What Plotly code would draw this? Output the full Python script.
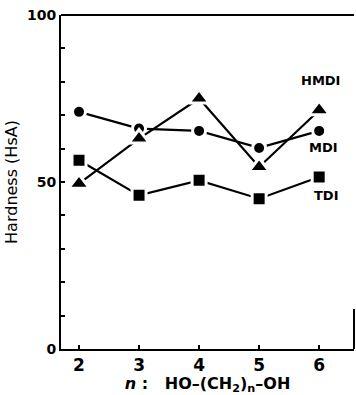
import plotly.graph_objects as go

# chain length n of the diol HO-(CH2)n-OH
n_values = [2, 3, 4, 5, 6]

# hardness (HsA) of each diisocyanate series
mdi = [71, 66, 65.3, 60.2, 65.3]
hmdi = [49.5, 63, 75, 54.5, 71.5]
tdi = [56.5, 46, 50.5, 45, 51.5]

series_names = ["MDI", "HMDI", "TDI"]
y_ticks = [0, 50, 100]

FONT = "DejaVu Sans"

fig = go.Figure()

styles = {
    "MDI": dict(symbol="circle", size=13),
    "HMDI": dict(symbol="triangle-up", size=18),
    "TDI": dict(symbol="square", size=14),
}

for name, vals in zip(series_names, [mdi, hmdi, tdi]):
    st = styles[name]
    fig.add_trace(go.Scatter(
        x=n_values, y=vals, mode="lines+markers", name=name,
        line=dict(color="black", width=2.2),
        marker=dict(symbol=st["symbol"], size=st["size"], color="black",
                    line=dict(color="white", width=3)),
        showlegend=False,
    ))

# series labels next to the last point of each line
label_pos = {"HMDI": (6.03, 80.5), "MDI": (6.08, 60.2), "TDI": (6.12, 46)}
for name, (lx, ly) in label_pos.items():
    fig.add_annotation(x=lx, y=ly, text="<b>" + name + "</b>", showarrow=False,
                       font=dict(family=FONT, size=13, color="#000000"),
                       xanchor="center", yanchor="middle")

# short stub of the right-hand frame near the bottom
fig.add_shape(type="line", xref="paper", yref="y", x0=1, x1=1, y0=0, y1=12,
              line=dict(color="black", width=2))

fig.update_xaxes(
    range=[1.7, 6.58], tickvals=n_values,
    ticktext=["<b>" + str(v) + "</b>" for v in n_values],
    ticks="inside", ticklen=4, tickwidth=2, tickcolor="black",
    showline=True, linecolor="black", linewidth=2, mirror=False,
    showgrid=False, zeroline=False,
    tickfont=dict(family=FONT, size=17, color="black"),
    title=dict(text="<b><i>n</i> :   HO–(CH<sub>2</sub>)<sub>n</sub>–OH</b>",
               font=dict(family=FONT, size=16, color="black"), standoff=4),
)
fig.update_yaxes(
    range=[0, 100], tickvals=y_ticks,
    ticktext=["<b>" + str(v) + "</b>" for v in y_ticks],
    ticks="", showline=True, linecolor="black", linewidth=2,
    showgrid=False, zeroline=False,
    tickfont=dict(family=FONT, size=14, color="black"),
    title=dict(text="Hardness (HsA)",
               font=dict(family=FONT, size=16, color="black"), standoff=5),
    minor=dict(tickvals=list(range(10, 100, 10)), ticks="inside", ticklen=4,
               tickwidth=2, tickcolor="black", showgrid=False),
)

# top frame line
fig.add_shape(type="line", xref="paper", yref="paper", x0=0, x1=1, y0=1, y1=1,
              line=dict(color="black", width=2))

fig.update_layout(
    width=356, height=395,
    margin=dict(l=61, r=2, t=15, b=46),
    paper_bgcolor="white", plot_bgcolor="white",
)

fig.write_html("out.html")
